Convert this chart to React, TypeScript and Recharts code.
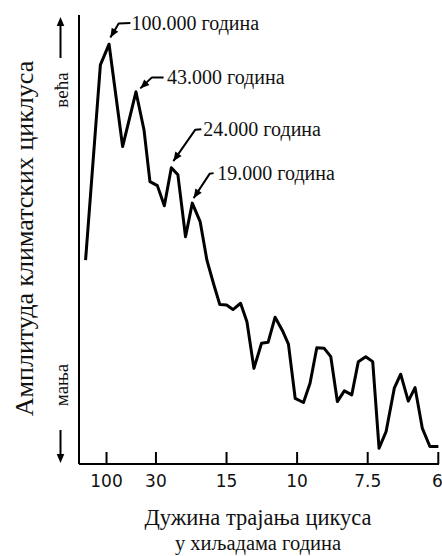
import React from 'react';
import { LineChart, Line, XAxis, YAxis } from 'recharts';

// Cycle lengths (thousands of years) shown on the horizontal axis
const periods = [100, 30, 15, 10, 7.5, 6];
const tickLabels = ['100', '30', '15', '10', '7.5', '6'];

// Spectrum: frequency in cycles per 100 000 years, relative amplitude 0–100
const frequency = [
  0.01, 0.71, 1.12, 1.76, 2.39, 2.77, 3.05, 3.4, 3.73, 4.06, 4.37, 4.73, 5.05, 5.42, 5.74, 6.05,
  6.35, 6.67, 6.97, 7.33, 7.63, 7.96, 8.32, 8.63, 8.96, 9.33, 9.59, 9.91, 10.3, 10.61, 10.93, 11.27,
  11.59, 11.9, 12.23, 12.58, 12.89, 13.24, 13.57, 13.87, 14.2, 14.59, 14.89, 15.25, 15.57, 15.91,
  16.27, 16.67,
];
const amplitude = [
  45.4, 88.9, 93.5, 70.7, 82.9, 74.4, 62.9, 62.0, 57.5, 66.0, 64.4, 50.6, 58.1, 54.0, 45.4, 40.2,
  35.5, 35.4, 34.4, 35.8, 31.7, 21.3, 26.9, 27.1, 32.7, 29.5, 26.7, 14.6, 13.7, 18.0, 25.9, 25.8,
  23.9, 13.9, 16.3, 15.4, 22.8, 23.9, 22.8, 3.5, 7.2, 16.9, 20.0, 14.0, 17.0, 8.0, 3.9, 3.9,
];

// Annotated peaks (cycle length in thousands of years)
const peakPeriods = [100, 43, 24, 19];
const peakLabels = ['100.000 година', '43.000 година', '24.000 година', '19.000 година'];

const data = frequency.map((f, i) => ({ freq: f, amp: amplitude[i] }));

const localMaxima = data
  .map((_, i) => i)
  .filter((i) => i > 0 && i < data.length - 1 && data[i].amp > data[i - 1].amp && data[i].amp > data[i + 1].amp);

const peakIndex = peakPeriods.map((p) => {
  const f = 100 / p;
  return localMaxima.reduce(
    (best, i) => (Math.abs(data[i].freq - f) < Math.abs(data[best].freq - f) ? i : best),
    localMaxima[0]
  );
});

// Leader geometry of each callout, in pixels relative to its peak
const leaders = [
  { tip: [1.3, -6.7], elbow: [9.6, -20.7], start: [21.3, -21.3], text: [22.5, -21.3] },
  { tip: [4.3, -3.4], elbow: [16, -14.4], start: [27.6, -14.4], text: [31, -14.4] },
  { tip: [2, -6.5], elbow: [24, -38], start: [30, -38.5], text: [32, -38.5] },
  { tip: [1.3, -5], elbow: [17.3, -29.3], start: [21.3, -30], text: [25, -30] },
];

const SERIF = '"Liberation Serif", "Times New Roman", serif';
const SANS = '"DejaVu Sans", sans-serif';

const arrowHead = (fx: number, fy: number, tx: number, ty: number, len = 9, half = 3.8) => {
  const dx = tx - fx;
  const dy = ty - fy;
  const d = Math.hypot(dx, dy) || 1;
  const ux = dx / d;
  const uy = dy / d;
  const bx = tx - ux * len;
  const by = ty - uy * len;
  return `${tx},${ty} ${bx - uy * half},${by + ux * half} ${bx + uy * half},${by - ux * half}`;
};

const PeakCallout = (props: any) => {
  const { cx, cy, index } = props;
  const k = peakIndex.indexOf(index);
  if (k < 0 || cx == null || cy == null) return <g key={`pt-${index}`} />;
  const l = leaders[k];
  const tx = cx + l.tip[0];
  const ty = cy + l.tip[1];
  const ex = cx + l.elbow[0];
  const ey = cy + l.elbow[1];
  const sx = cx + l.start[0];
  const sy = cy + l.start[1];
  return (
    <g key={`pt-${index}`}>
      <path
        d={`M${sx},${sy} L${ex},${ey} L${tx},${ty}`}
        fill="none"
        stroke="#000"
        strokeWidth={2}
        strokeLinejoin="round"
      />
      <polygon points={arrowHead(ex, ey, tx, ty)} fill="#000" />
      <text
        x={cx + l.text[0]}
        y={cy + l.text[1]}
        dominantBaseline="central"
        fontFamily={SERIF}
        fontSize={20}
        fill="#111"
      >
        {peakLabels[k]}
      </text>
    </g>
  );
};

const PeriodTick = (props: any) => {
  const { x, y, index } = props;
  const last = index === tickLabels.length - 1;
  return (
    <g>
      <line x1={x} y1={y} x2={x} y2={y - 12} stroke="#000" strokeWidth={2} />
      <text
        x={last ? x + 4.5 : x}
        y={y + 17}
        textAnchor={last ? 'end' : 'middle'}
        dominantBaseline="central"
        fontFamily={SANS}
        fontSize={17}
        fill="#111"
      >
        {tickLabels[index]}
      </text>
    </g>
  );
};

const AmplitudeLabel = (props: any) => {
  const { x, y, width, height } = props.viewBox;
  const left = x + width;
  const top = y;
  const bottom = y + height;
  const ax = left - 18.5;
  const lx = left - 55;
  const ly = top + height / 2 - 1;
  return (
    <g>
      <text
        x={lx}
        y={ly}
        transform={`rotate(-90 ${lx} ${ly})`}
        textAnchor="middle"
        dominantBaseline="central"
        fontFamily={SERIF}
        fontSize={26}
        fill="#111"
      >
        Амплитуда климатских циклуса
      </text>
      <line x1={ax} y1={top + 43} x2={ax} y2={top + 8} stroke="#000" strokeWidth={2} />
      <polygon points={arrowHead(ax, top + 43, ax, top + 2)} fill="#000" />
      <text
        x={ax + 1}
        y={top + 75}
        transform={`rotate(-90 ${ax + 1} ${top + 75})`}
        textAnchor="middle"
        dominantBaseline="central"
        fontFamily={SERIF}
        fontSize={19}
        fill="#111"
      >
        већа
      </text>
      <text
        x={ax + 1}
        y={bottom - 79}
        transform={`rotate(-90 ${ax + 1} ${bottom - 79})`}
        textAnchor="middle"
        dominantBaseline="central"
        fontFamily={SERIF}
        fontSize={19}
        fill="#111"
      >
        мања
      </text>
      <line x1={ax} y1={bottom - 34} x2={ax} y2={bottom - 7} stroke="#000" strokeWidth={2} />
      <polygon points={arrowHead(ax, bottom - 34, ax, bottom - 1)} fill="#000" />
    </g>
  );
};

const PeriodTitle = (props: any) => {
  const { x, y, width } = props.viewBox;
  const cx = x + width / 2;
  return (
    <g>
      <text x={cx - 1} y={y + 53} textAnchor="middle" dominantBaseline="central" fontFamily={SERIF} fontSize={22.5} fill="#111">
        Дужина трајања цикуса
      </text>
      <text x={cx - 1} y={y + 79} textAnchor="middle" dominantBaseline="central" fontFamily={SERIF} fontSize={20.5} fill="#111">
        у хиљадама година
      </text>
    </g>
  );
};

export default function App() {
  return (
    <div style={{ position: 'absolute', left: 0, top: 0, width: 442, height: 556, background: '#fff' }}>
      <LineChart width={442} height={556} data={data} margin={{ top: 15, right: 3, bottom: 62, left: 19 }}>
        <XAxis
          type="number"
          dataKey="freq"
          domain={[-0.3, 16.7]}
          ticks={periods.map((p) => 100 / p)}
          interval={0}
          height={30}
          tickSize={0}
          tickMargin={0}
          tickLine={false}
          tick={<PeriodTick />}
          axisLine={{ stroke: '#000', strokeWidth: 2 }}
          label={{ content: PeriodTitle }}
        />
        <YAxis
          type="number"
          domain={[0, 100]}
          width={60}
          tick={false}
          tickLine={false}
          axisLine={{ stroke: '#000', strokeWidth: 2 }}
          label={{ content: AmplitudeLabel }}
        />
        <Line
          type="linear"
          dataKey="amp"
          stroke="#000"
          strokeWidth={3}
          strokeLinejoin="round"
          dot={PeakCallout}
          activeDot={false}
          isAnimationActive={false}
        />
      </LineChart>
    </div>
  );
}
